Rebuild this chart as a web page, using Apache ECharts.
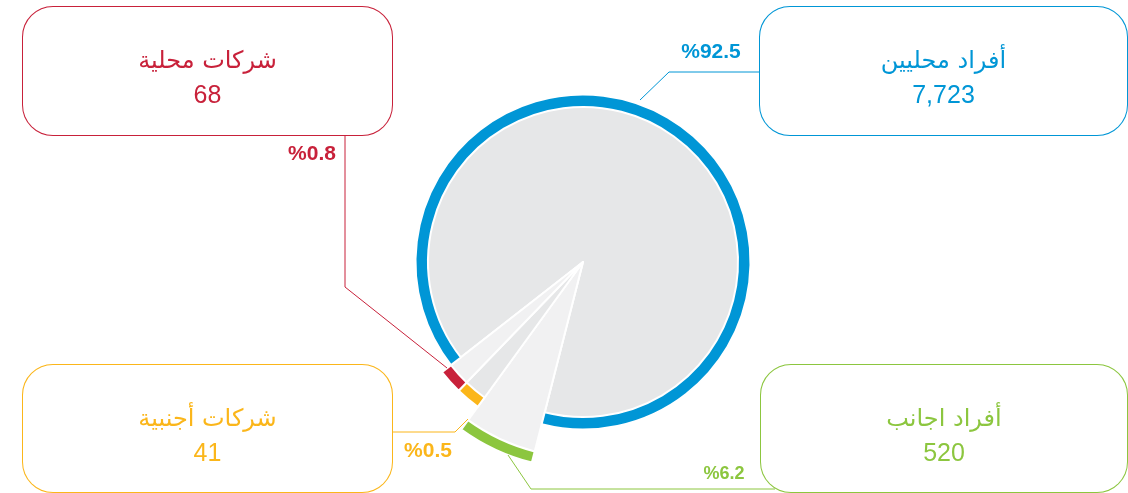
<!DOCTYPE html>
<html>
<head>
<meta charset="utf-8">
<script src="https://cdn.jsdelivr.net/npm/echarts@6/dist/echarts.min.js"></script>
<style>
html,body{margin:0;padding:0;background:#fff;}
#chart{width:1128px;height:493px;}
</style>
</head>
<body>
<div id="chart"></div>
<script>
// ---- data ----
var categories = ['أفراد محليين', 'أفراد اجانب', 'شركات أجنبية', 'شركات محلية'];
var values = [7723, 520, 41, 68];

// ---- styles ----
var colors = ['#0096d6', '#8cc63f', '#fbb61a', '#c8213a'];
var fillColors = ['#e6e7e8', '#f1f1f2', '#e6e7e8', '#f1f1f2'];
var fillRadius = [157, 197, 169, 169];
var ringRadius = [[155, 167.5], [195.5, 207], [167.5, 179], [167.5, 179]];
var center = [583, 262];
var boxLayout = [
  {x: 943.5, y: 7, w: 367, h: 128},
  {x: 944, y: 365, w: 366, h: 127},
  {x: 207.5, y: 365, w: 369, h: 127},
  {x: 207.5, y: 7, w: 369, h: 128}
];
var linePoints = [
  [[640, 100], [669, 72], [760, 72]],
  [[508, 455], [531, 489], [775, 489]],
  [[468, 419], [455, 432], [392, 432]],
  [[447, 368], [345, 287], [345, 135]]
];
var pctLayout = [
  {x: 711, y: 52, size: 21},
  {x: 724, y: 474, size: 18},
  {x: 428, y: 451, size: 21},
  {x: 312, y: 154, size: 21}
];

var total = values.reduce(function (a, b) { return a + b; }, 0);
var transparent = 'rgba(0,0,0,0)';
var common = {
  type: 'pie',
  center: center,
  startAngle: -142,
  clockwise: true,
  minAngle: 8,
  silent: true,
  animation: false,
  avoidLabelOverlap: false,
  emphasis: {disabled: true},
  label: {show: false},
  labelLine: {show: false}
};

function makeData(visibleIdx, colorFn, borderW) {
  return categories.map(function (name, i) {
    var vis = i === visibleIdx;
    return {
      name: name,
      value: values[i],
      itemStyle: {
        color: vis ? colorFn(i) : transparent,
        borderColor: '#ffffff',
        borderWidth: vis ? borderW : 0
      }
    };
  });
}

var series = [];
// fills
categories.forEach(function (c, i) {
  series.push(Object.assign({}, common, {
    radius: [0, fillRadius[i]],
    data: makeData(i, function (k) { return fillColors[k]; }, 2)
  }));
});
// rings
categories.forEach(function (c, i) {
  series.push(Object.assign({}, common, {
    radius: ringRadius[i],
    data: makeData(i, function (k) { return colors[k]; }, 2)
  }));
});

// box labels
series.push(Object.assign({}, common, {
  radius: [0, 150],
  z: 5,
  data: categories.map(function (name, i) {
    return {
      name: name,
      value: values[i],
      itemStyle: {color: transparent},
      label: {
        show: true,
        position: 'outside',
        color: colors[i],
        backgroundColor: '#ffffff',
        borderColor: colors[i],
        borderWidth: 1,
        borderRadius: 30,
        width: boxLayout[i].w,
        padding: [36, 0, boxLayout[i].h - 36 - 68, 0],
        formatter: '{n|' + name + '}\n{v|' + values[i].toLocaleString('en-US') + '}',
        rich: {
          n: {fontFamily: "'DejaVu Sans', sans-serif", fontSize: 24, lineHeight: 38, color: colors[i], align: 'center'},
          v: {fontFamily: "'Liberation Sans', Arial, sans-serif", fontSize: 25, lineHeight: 30, color: colors[i], align: 'center'}
        }
      },
      labelLine: {show: true, lineStyle: {color: colors[i], width: 1}}
    };
  }),
  labelLayout: function (p) {
    var b = boxLayout[p.dataIndex];
    return {x: b.x, y: b.y, align: 'center', verticalAlign: 'top', labelLinePoints: linePoints[p.dataIndex]};
  }
}));

// percentage labels
series.push(Object.assign({}, common, {
  radius: [0, 150],
  z: 6,
  data: categories.map(function (name, i) {
    return {
      name: name,
      value: values[i],
      itemStyle: {color: transparent},
      label: {
        show: true,
        position: 'outside',
        color: colors[i],
        fontFamily: "'Liberation Sans', Arial, sans-serif",
        fontWeight: 'bold',
        fontSize: pctLayout[i].size,
        formatter: '%' + (values[i] / total * 100).toFixed(1)
      },
      labelLine: {show: false}
    };
  }),
  labelLayout: function (p) {
    var l = pctLayout[p.dataIndex];
    return {x: l.x, y: l.y, align: 'center', verticalAlign: 'middle'};
  }
}));

var chart = echarts.init(document.getElementById('chart'), null, {renderer: 'canvas'});
chart.setOption({animation: false, backgroundColor: '#ffffff', series: series});
</script>
</body>
</html>
